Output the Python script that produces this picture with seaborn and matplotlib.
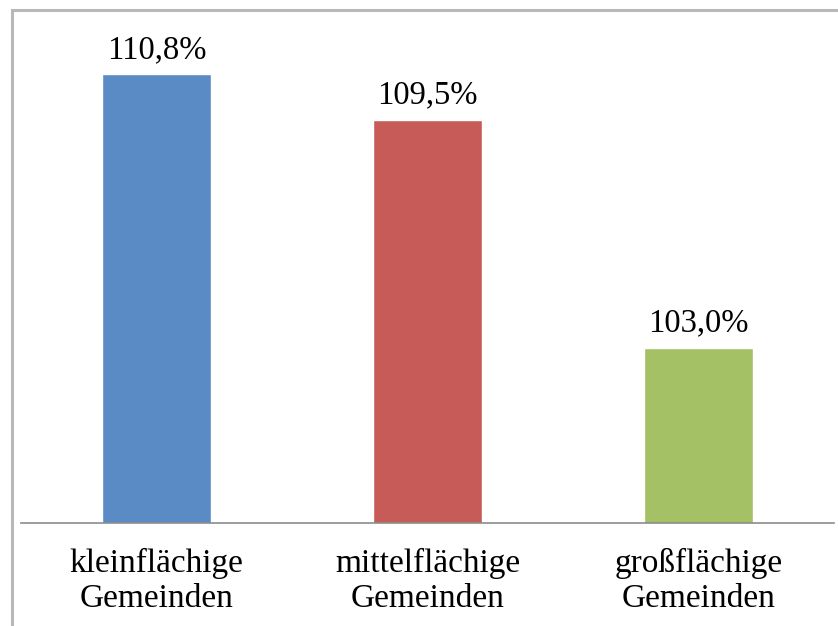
import matplotlib
matplotlib.use("Agg")
import matplotlib.pyplot as plt
import seaborn as sns
import pandas as pd
from matplotlib.patches import Rectangle

categories = ["kleinflächige\nGemeinden", "mittelflächige\nGemeinden", "großflächige\nGemeinden"]
values = [110.8, 109.5, 103.0]
value_labels = ["110,8%", "109,5%", "103,0%"]
colors = ["#5b8bc4", "#c75b58", "#a4c165"]

df = pd.DataFrame({"cat": categories, "val": values})

sns.set_theme(style="white")
plt.rcParams["font.family"] = ["Liberation Serif", "DejaVu Serif"]

fig = plt.figure(figsize=(8.38, 6.26), dpi=100)
ax = fig.add_axes([21/838, 103/626, 813/838, 491/626])

sns.barplot(data=df, x="cat", y="val", hue="cat", palette=colors, legend=False,
            width=0.40, ax=ax, saturation=1)

ax.set_ylim(98, 112)
ax.set_xlim(-0.5, 2.5)
for s in ["top", "right", "left"]:
    ax.spines[s].set_visible(False)
ax.spines["bottom"].set_color("#8c8c8c")
ax.spines["bottom"].set_linewidth(1.2)
ax.set_yticks([])
ax.set_xlabel("")
ax.set_ylabel("")
ax.tick_params(axis="x", length=0, pad=18, labelsize=24, colors="black")
for lbl in ax.get_xticklabels():
    lbl.set_linespacing(1.2)

for i, (v, t) in enumerate(zip(values, value_labels)):
    ax.text(i, v + 0.26, t, ha="center", va="bottom", fontsize=23.5, color="black",
            clip_on=False)

fig.patches.append(Rectangle((12/838, -0.1), 2.0, (626 - 10)/626 + 0.1,
                             transform=fig.transFigure, fill=False,
                             edgecolor="#b8b8b8", linewidth=2.2))

fig.savefig("out.png", dpi=100, facecolor="white")
